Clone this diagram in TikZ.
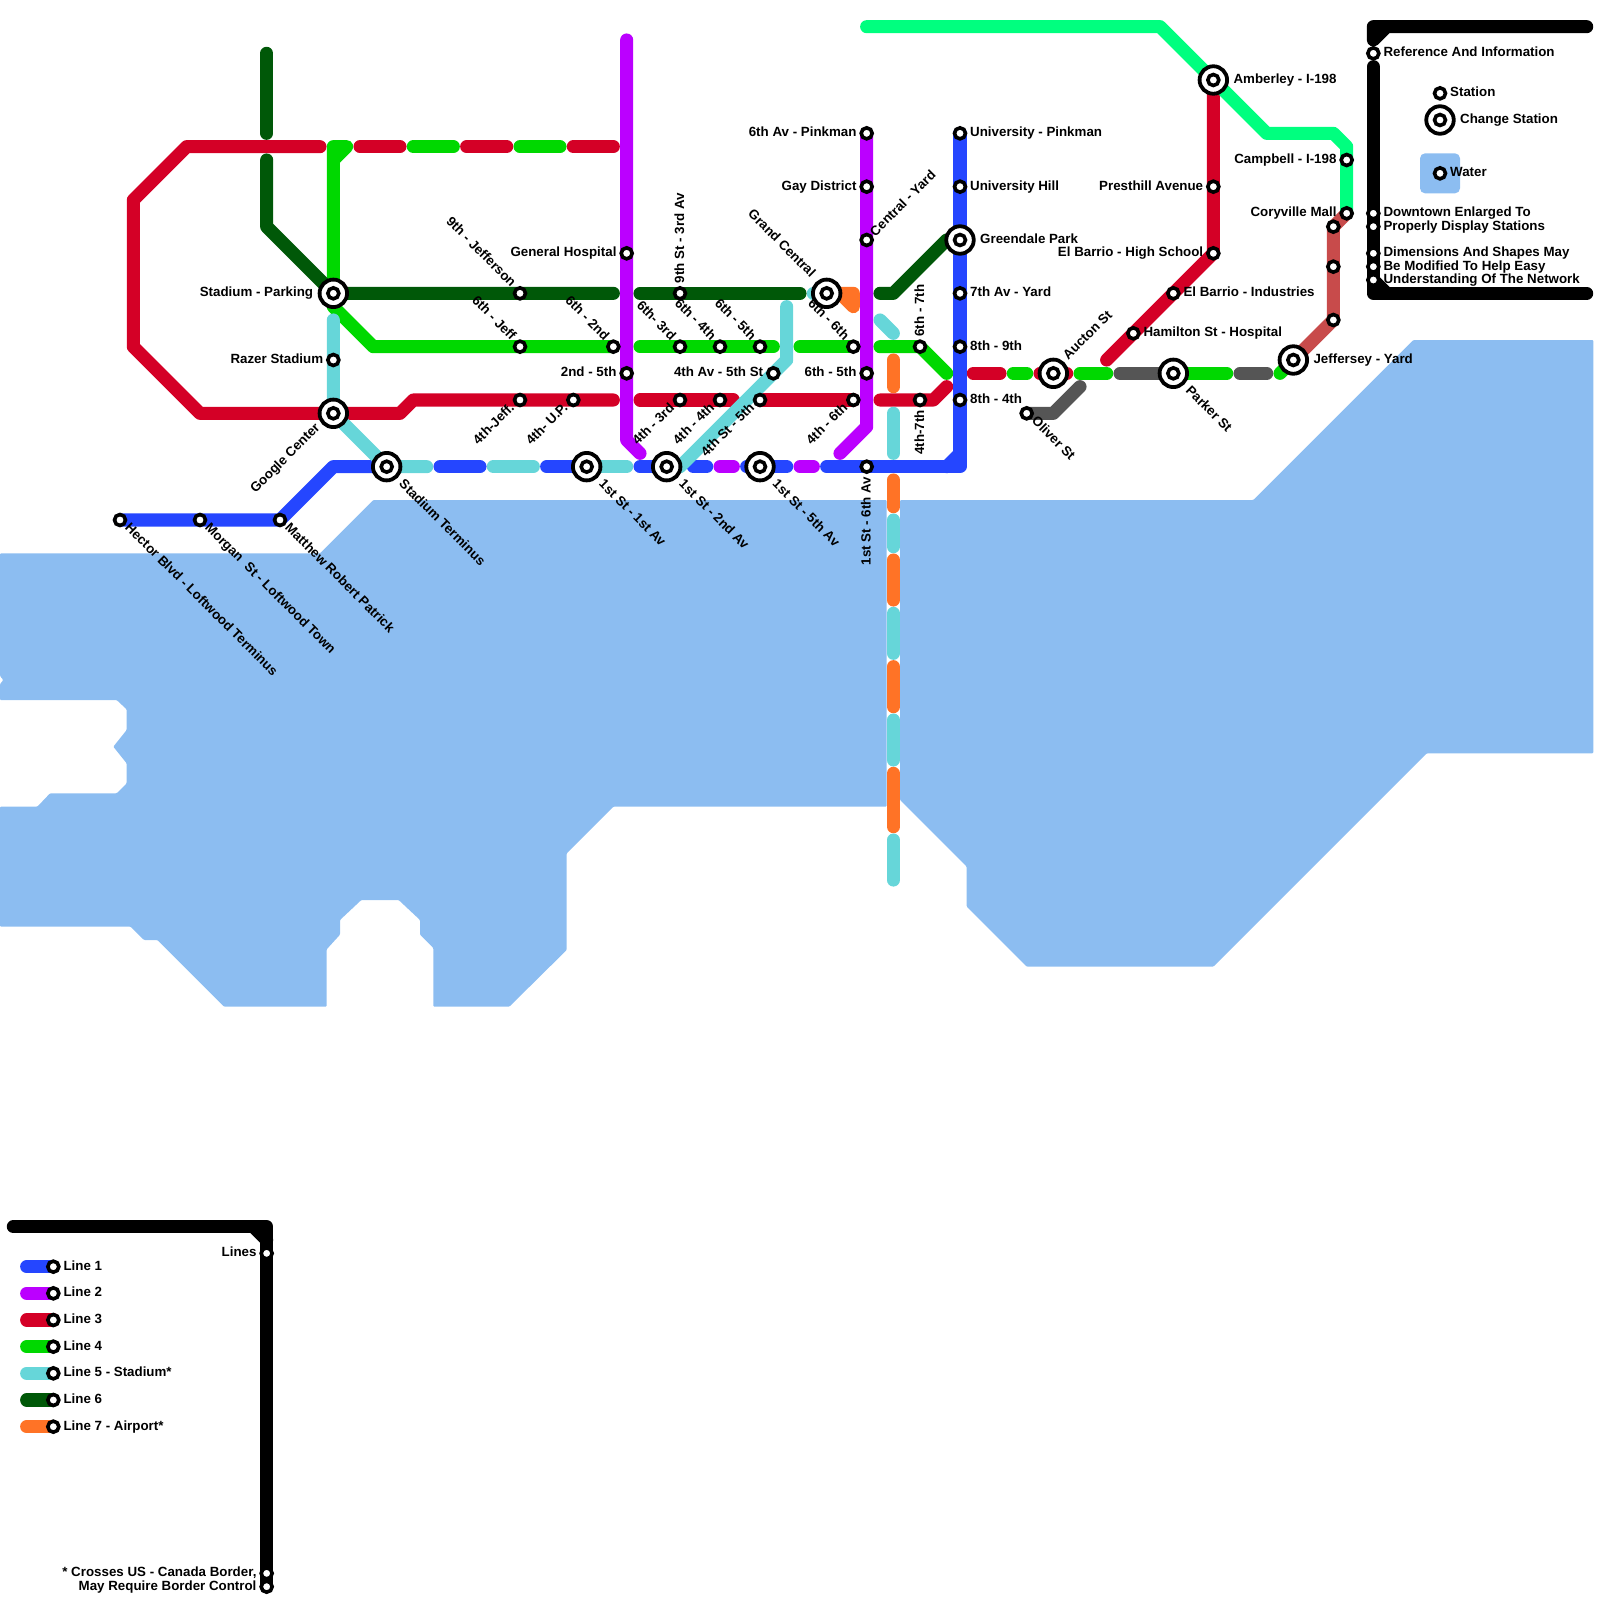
\documentclass[tikz,border=0pt]{standalone}
\usepackage{fontspec}
\setmainfont{Liberation Sans}
\usetikzlibrary{backgrounds}
\definecolor{cblue}{RGB}{37,70,255}
\definecolor{cpurple}{RGB}{187,0,255}
\definecolor{cred}{RGB}{212,0,38}
\definecolor{cgreen}{RGB}{0,216,0}
\definecolor{cteal}{RGB}{102,214,217}
\definecolor{cdark}{RGB}{0,88,8}
\definecolor{corange}{RGB}{255,115,38}
\definecolor{cspring}{RGB}{0,255,127}
\definecolor{cgrey}{RGB}{85,85,85}
\definecolor{cbrown}{RGB}{200,75,75}
\definecolor{cwater}{RGB}{140,189,241}

\begin{document}
\begin{tikzpicture}[x=13.333pt,y=-13.333pt,font=\fontsize{13.33}{15}\selectfont\bfseries,
stn/.style={circle,draw=black,fill=white,line width=3.6pt,minimum size=11pt,inner sep=0pt},
chg/.style={circle,draw=black,fill=white,line width=3.8pt,minimum size=27.5pt,inner sep=0pt,
  path picture={\draw[line width=3.6pt,fill=white] (path picture bounding box.center) circle (5.5pt);}},
lbl/.style={inner sep=0pt},
lr/.style={lbl,anchor=base west,xshift=10pt,yshift=-3.5pt},
ll/.style={lbl,anchor=base east,xshift=-10pt,yshift=-3.5pt},
lrc/.style={lr,xshift=10pt},
llc/.style={ll,xshift=-10pt},
lse/.style={lbl,rotate=-45,anchor=base west,xshift=9pt,yshift=-3pt},
lsec/.style={lse,xshift=12pt,yshift=-1.5pt},
lnw/.style={lbl,rotate=-45,anchor=base east,xshift=-10.5pt,yshift=-2.5pt},
lsw/.style={lbl,rotate=45,anchor=base east,xshift=-9.4pt,yshift=-2.6pt},
lne/.style={lbl,rotate=45,anchor=base west,xshift=8pt,yshift=-4pt},
lup/.style={lbl,rotate=90,anchor=base west,xshift=10pt,yshift=-4pt},
ldn/.style={lbl,rotate=90,anchor=base east,xshift=-10pt,yshift=-4pt},
ln/.style={line width=13.1pt,line cap=round,line join=round},
blueln/.style={ln,draw=cblue},purpleln/.style={ln,draw=cpurple},redln/.style={ln,draw=cred},
greenln/.style={ln,draw=cgreen},tealln/.style={ln,draw=cteal},darkln/.style={ln,draw=cdark},
orangeln/.style={ln,draw=corange},springln/.style={ln,draw=cspring},greyln/.style={ln,draw=cgrey},
brownln/.style={ln,draw=cbrown},blackln/.style={ln,draw=black}]
\useasboundingbox (0,0) rectangle (120,120);

\foreach \x in {32,33,36,37,40,41,47,48,52,53,54,55,56,60,61,62} \coordinate (a\x) at (\x,35);
\foreach \x in {24,27,30,31,34,35,38,39,42,43,46} \coordinate (t\x) at (\x,11);
\foreach \x in {48,58,60,66} \coordinate (g\x) at (\x,26);
\foreach \x in {46,48,55,66} \coordinate (r\x) at (\x,30);
\foreach \x in {46,48,60,66} \coordinate (d\x) at (\x,22);
\foreach \x in {73,75,76,77,78,80,81,83,84,92,93,95,96} \coordinate (m\x) at (\x,28);
\foreach \y in {27,29,31,34,36,38,39,41,42,45,46,49,50,53,54,57,58,62,63,66} \coordinate (c\y) at (67,\y);
\coordinate (dtop) at (20,4);
\coordinate (dtopb) at (20,10);
\coordinate (dmid) at (20,12);
\coordinate (tstub) at (25,24);
\coordinate (tgc) at (61,22);
\coordinate (tup) at (59,23);
\coordinate (tdiag) at (51,35);
\coordinate (tshort) at (66,24);
\coordinate (tshortb) at (67,25);
\coordinate (ptop) at (47,3);
\coordinate (pend) at (48,34);
\coordinate (pendb) at (63,34);
\coordinate (rend) at (83,27);
\coordinate (rendb) at (71,29);
\coordinate (gend) at (71,28);
\coordinate (gstart) at (25,23);
\coordinate (gyend) at (81,29);
\coordinate (spstart) at (65,2);
\coordinate (bcorner) at (72,35);
\coordinate (ktop) at (119,2);
\coordinate (kbot) at (119,22);
\coordinate (kleg) at (1,92);
\coordinate (kmid) at (103,5);

\node[stn] (hector) at (9,39) {}; \node[lse] (hector-l) at (hector) {Hector Blvd - Loftwood Terminus};
\node[stn] (morgan) at (15,39) {}; \node[lse] (morgan-l) at (morgan) {Morgan\ \ St - Loftwood Town};
\node[stn] (matthew) at (21,39) {}; \node[lse] (matthew-l) at (matthew) {Matthew Robert Patrick};
\node[chg] (terminus) at (29,35) {}; \node[lsec] (terminus-l) at (terminus) {Stadium Terminus};
\node[chg] (first) at (44,35) {}; \node[lsec] (first-l) at (first) {1st St - 1st Av};
\node[chg] (second) at (50,35) {}; \node[lsec] (second-l) at (second) {1st St - 2nd Av};
\node[chg] (fifth) at (57,35) {}; \node[lsec] (fifth-l) at (fifth) {1st St - 5th Av};
\node[stn] (sixth) at (65,35) {}; \node[ldn] (sixth-l) at (sixth) {1st St - 6th Av};
\node[stn] (unipink) at (72,10) {}; \node[lr] (unipink-l) at (unipink) {University - Pinkman};
\node[stn] (unihill) at (72,14) {}; \node[lr] (unihill-l) at (unihill) {University Hill};
\node[chg] (green) at (72,18) {}; \node[lrc] (green-l) at (green) {Greendale Park};
\node[stn] (yard) at (72,22) {}; \node[lr] (yard-l) at (yard) {7th Av - Yard};
\node[stn] (eight) at (72,26) {}; \node[lr] (eight-l) at (eight) {8th - 9th};
\node[stn] (eightb) at (72,30) {}; \node[lr] (eightb-l) at (eightb) {8th - 4th};
\node[stn] (hosp) at (47,19) {}; \node[ll] (hosp-l) at (hosp) {General Hospital};
\node[stn] (snd) at (47,28) {}; \node[ll] (snd-l) at (snd) {2nd - 5th};
\node[stn] (pink) at (65,10) {}; \node[ll] (pink-l) at (pink) {6th Av - Pinkman};
\node[stn] (gay) at (65,14) {}; \node[ll] (gay-l) at (gay) {Gay District};
\node[stn] (central) at (65,18) {}; \node[lne] (central-l) at (central) {Central - Yard};
\node[stn] (sixfive) at (65,28) {}; \node[ll] (sixfive-l) at (sixfive) {6th - 5th};
\node[chg] (parking) at (25,22) {}; \node[llc] (parking-l) at (parking) {Stadium - Parking};
\node[stn] (razer) at (25,27) {}; \node[ll] (razer-l) at (razer) {Razer Stadium};
\node[chg] (google) at (25,31) {}; \node[lsw,xshift=-10.5pt,yshift=.7pt] (google-l) at (google) {Google Center};
\node[stn] (jeffa) at (39,22) {}; \node[lnw] (jeffa-l) at (jeffa) {9th - Jefferson};
\node[stn] (jeffb) at (39,26) {}; \node[lnw] (jeffb-l) at (jeffb) {6th - Jeff};
\node[stn] (jeffc) at (39,30) {}; \node[lsw] (jeffc-l) at (jeffc) {4th-Jeff.};
\node[stn] (up) at (43,30) {}; \node[lsw] (up-l) at (up) {4th- U.P.};
\node[stn] (sixsnd) at (46,26) {}; \node[lnw] (sixsnd-l) at (sixsnd) {6th - 2nd};
\node[stn] (third) at (51,22) {}; \node[lup] (third-l) at (third) {9th St - 3rd Av};
\node[stn] (sixthr) at (51,26) {}; \node[lnw] (sixthr-l) at (sixthr) {6th- 3rd};
\node[stn] (sixfr) at (54,26) {}; \node[lnw] (sixfr-l) at (sixfr) {6th - 4th};
\node[stn] (sixfv) at (57,26) {}; \node[lnw] (sixfv-l) at (sixfv) {6th - 5th};
\node[stn] (sixsx) at (64,26) {}; \node[lnw] (sixsx-l) at (sixsx) {6th - 6th};
\node[stn] (sixsv) at (69,26) {}; \node[lup] (sixsv-l) at (sixsv) {6th - 7th};
\node[stn] (frthr) at (51,30) {}; \node[lsw] (frthr-l) at (frthr) {4th - 3rd};
\node[stn] (frfr) at (54,30) {}; \node[lsw] (frfr-l) at (frfr) {4th - 4th};
\node[stn] (frfv) at (57,30) {}; \node[lsw] (frfv-l) at (frfv) {4th St - 5th};
\node[stn] (frsx) at (64,30) {}; \node[lsw] (frsx-l) at (frsx) {4th - 6th};
\node[stn] (frsv) at (69,30) {}; \node[ldn] (frsv-l) at (frsv) {4th-7th};
\node[stn] (frav) at (58,28) {}; \node[ll] (frav-l) at (frav) {4th Av - 5th St};
\node[chg] (grand) at (62,22) {}; \node[lnw,xshift=-12pt,yshift=1.8pt] (grand-l) at (grand) {Grand Central};
\node[chg] (auc) at (79,28) {}; \node[lne,xshift=11.5pt,yshift=2.4pt] (auc-l) at (auc) {Aucton St};
\node[stn] (oliver) at (77,31) {}; \node[lse] (oliver-l) at (oliver) {Oliver St};
\node[chg] (parker) at (88,28) {}; \node[lsec] (parker-l) at (parker) {Parker St};
\node[chg] (jeffy) at (97,27) {}; \node[lrc] (jeffy-l) at (jeffy) {Jeffersey - Yard};
\node[stn] (ham) at (85,25) {}; \node[lr] (ham-l) at (ham) {Hamilton St - Hospital};
\node[stn] (ind) at (88,22) {}; \node[lr] (ind-l) at (ind) {El Barrio - Industries};
\node[stn] (high) at (91,19) {}; \node[ll] (high-l) at (high) {El Barrio - High School};
\node[stn] (pres) at (91,14) {}; \node[ll] (pres-l) at (pres) {Presthill Avenue};
\node[chg] (amb) at (91,6) {}; \node[lrc] (amb-l) at (amb) {Amberley - I-198};
\node[stn] (camp) at (101,12) {}; \node[ll] (camp-l) at (camp) {Campbell - I-198};
\node[stn] (cory) at (101,16) {}; \node[ll] (cory-l) at (cory) {Coryville Mall};
\node[stn] (ba) at (100,17) {};
\node[stn] (bb) at (100,20) {};
\node[stn] (bc) at (100,24) {};
\node[stn] (ia) at (103,4) {}; \node[lr] (ia-l) at (ia) {Reference And Information};
\node[stn] (ib) at (103,16) {}; \node[lr] (ib-l) at (ib) {Downtown Enlarged To};
\node[stn] (ic) at (103,17) {}; \node[lr] (ic-l) at (ic) {Properly Display Stations};
\node[stn] (id) at (103,19) {}; \node[lr] (id-l) at (id) {Dimensions And Shapes May};
\node[stn] (ie) at (103,20) {}; \node[lr] (ie-l) at (ie) {Be Modified To Help Easy};
\node[stn] (if) at (103,21) {}; \node[lr] (if-l) at (if) {Understanding Of The Network};
\node[stn] (keystn) at (108,7) {}; \node[lr] (keystn-l) at (keystn) {Station};
\node[chg] (keychg) at (108,9) {}; \node[lrc] (keychg-l) at (keychg) {Change Station};
\node[stn] (keywat) at (108,13) {}; \node[lr] (keywat-l) at (keywat) {Water};
\node[stn] (lines) at (20,94) {}; \node[ll] (lines-l) at (lines) {Lines};
\node[stn] (cross) at (20,118) {}; \node[ll] (cross-l) at (cross) {* Crosses US - Canada Border,};
\node[stn] (may) at (20,119) {}; \node[ll] (may-l) at (may) {May Require Border Control};
\node[stn] (lna) at (4,95) {}; \node[lr] (lna-l) at (lna) {Line 1};
\node[stn] (lnb) at (4,97) {}; \node[lr] (lnb-l) at (lnb) {Line 2};
\node[stn] (lnc) at (4,99) {}; \node[lr] (lnc-l) at (lnc) {Line 3};
\node[stn] (lnd) at (4,101) {}; \node[lr] (lnd-l) at (lnd) {Line 4};
\node[stn] (lne) at (4,103) {}; \node[lr] (lne-l) at (lne) {Line 5 - Stadium*};
\node[stn] (lnf) at (4,105) {}; \node[lr] (lnf-l) at (lnf) {Line 6};
\node[stn] (lng) at (4,107) {}; \node[lr] (lng-l) at (lng) {Line 7 - Airport*};

\begin{scope}[on background layer]
\fill[cwater,rounded corners=1pt] (0,41.5)--(24,41.5)--(28,37.5)--(66.5,37.5)--(66.5,60.5)--(46,60.5)--(42.5,64)--(42.5,71.25)--(38.2,75.5)--(32.5,75.5)--(32.5,71.1)--(31.5,70.1)--(31.5,69)--(29.9,67.5)--(27.1,67.5)--(25.5,69)--(25.5,70.1)--(24.5,71.2)--(24.5,75.5)--(16.8,75.5)--(11.8,70.5)--(10.8,70.5)--(9.8,69.5)--(0,69.5)--(0,60.5)--(2.8,60.5)--(3.75,59.5)--(8.75,59.5)--(9.5,58.75)--(9.5,57.25)--(8.5,56)--(9.5,54.75)--(9.5,53.2)--(8.75,52.5)--(0,52.5)--(0,51.3)--(.25,51)--(0,50.7)--cycle;
\fill[cwater,rounded corners=1pt] (67.5,37.5)--(94,37.5)--(106,25.5)--(119.5,25.5)--(119.5,56.5)--(107,56.5)--(91,72.5)--(77,72.5)--(72.5,68)--(72.5,65)--(67.5,60)--cycle;
\fill[cwater,rounded corners=5pt] (106.5,11.5) rectangle (109.5,14.5);

\draw[redln] (t24)--(14,11)--(10,15)--(10,26)--(15,31)--(google.center)--(30,31)--(31,30)--(jeffc.center)--(up.center)--(r46);
\draw[redln] (t27)--(t30);
\draw[redln] (t35)--(t38);
\draw[redln] (t43)--(t46);
\draw[redln] (r48)--(frthr.center)--(frfr.center)--(r55);
\draw[redln] (frfv.center)--(frsx.center);
\draw[redln] (r66)--(frsv.center)--(70,30)--(rendb);
\draw[redln] (m73)--(m75);
\draw[redln] (m78)--(m80);
\draw[redln] (rend)--(ham.center)--(ind.center)--(high.center)--(pres.center)--(amb.center);
\draw[greenln,fill=cgreen] (parking.center)--(25,11)--(26,11)--(25,12);
\draw[greenln] (gstart)--(28,26)--(jeffb.center)--(sixsnd.center);
\draw[greenln] (t31)--(t34);
\draw[greenln] (t39)--(t42);
\draw[greenln] (g48)--(sixthr.center)--(sixfr.center)--(sixfv.center)--(g58);
\draw[greenln] (g60)--(sixsx.center);
\draw[greenln] (g66)--(sixsv.center)--(gend);
\draw[greenln] (m76)--(m77);
\draw[greenln] (m81)--(m83);
\draw[greenln] (parker.center)--(m92);
\draw[greenln] (m96)--(jeffy.center);
\draw[darkln] (dtop)--(dtopb);
\draw[darkln] (dmid)--(20,17)--(parking.center)--(jeffa.center)--(d46);
\draw[darkln] (d48)--(third.center)--(d60);
\draw[darkln] (d66)--(67,22)--(71,18)--(green.center);
\draw[purpleln] (ptop)--(hosp.center)--(snd.center)--(47,33)--(pend);
\draw[purpleln] (pink.center)--(gay.center)--(central.center)--(sixfive.center)--(65,32)--(pendb);
\draw[purpleln] (a54)--(a55);
\draw[purpleln] (a60)--(a61);
\draw[blueln] (hector.center)--(morgan.center)--(matthew.center)--(25,35)--(terminus.center);
\draw[blueln] (a33)--(a36);
\draw[blueln] (a41)--(first.center);
\draw[blueln] (a48)--(second.center);
\draw[blueln] (a52)--(a53);
\draw[blueln] (a56)--(fifth.center)--(59,35);
\draw[blueln] (a62)--(sixth.center)--(bcorner)--(eightb.center)--(eight.center)--(yard.center)--(green.center)--(unihill.center)--(unipink.center);
\draw[blueln] (71,35)--(72,34);
\draw[greyln] (m84)--(parker.center);
\draw[greyln] (m93)--(m95);
\draw[greyln] (oliver.center)--(79,31)--(gyend);
\draw[brownln] (jeffy.center)--(bc.center)--(bb.center)--(ba.center)--(cory.center);
\draw[springln] (spstart)--(87,2)--(amb.center)--(95,10)--(100,10)--(101,11)--(camp.center)--(cory.center);
\draw[orangeln,fill=corange] (grand.center)--(64,22)--(64,23)--(63,22)--cycle;
\draw[orangeln] (c27)--(c29);
\draw[orangeln] (c36)--(c38);
\draw[orangeln] (c42)--(c45);
\draw[orangeln] (c50)--(c53);
\draw[orangeln] (c58)--(c62);
\draw[tealln] (tstub)--(razer.center)--(google.center)--(terminus.center)--(a32);
\draw[tealln] (a37)--(a40);
\draw[tealln] (first.center)--(47,35);
\draw[tealln] (tup)--(59,27)--(frav.center)--(tdiag);
\draw[tealln] (tgc)--(grand.center);
\draw[tealln] (tshort)--(tshortb);
\draw[tealln] (c31)--(c34);
\draw[tealln] (c39)--(c41);
\draw[tealln] (c46)--(c49);
\draw[tealln] (c54)--(c57);
\draw[tealln] (c63)--(c66);
\draw[blackln] (ktop)--(103,2)--(103,3)--(104,2);
\draw[blackln] (kmid)--(103,22)--(kbot);
\draw[blackln] (103,21)--(104,22);
\draw[blackln] (kleg)--(20,92)--(may.center);
\draw[blackln] (19,92)--(20,93);
\draw[blueln] (2,95)--(lna.center);
\draw[purpleln] (2,97)--(lnb.center);
\draw[redln] (2,99)--(lnc.center);
\draw[greenln] (2,101)--(lnd.center);
\draw[tealln] (2,103)--(lne.center);
\draw[darkln] (2,105)--(lnf.center);
\draw[orangeln] (2,107)--(lng.center);
\end{scope}
\end{tikzpicture}
\end{document}
